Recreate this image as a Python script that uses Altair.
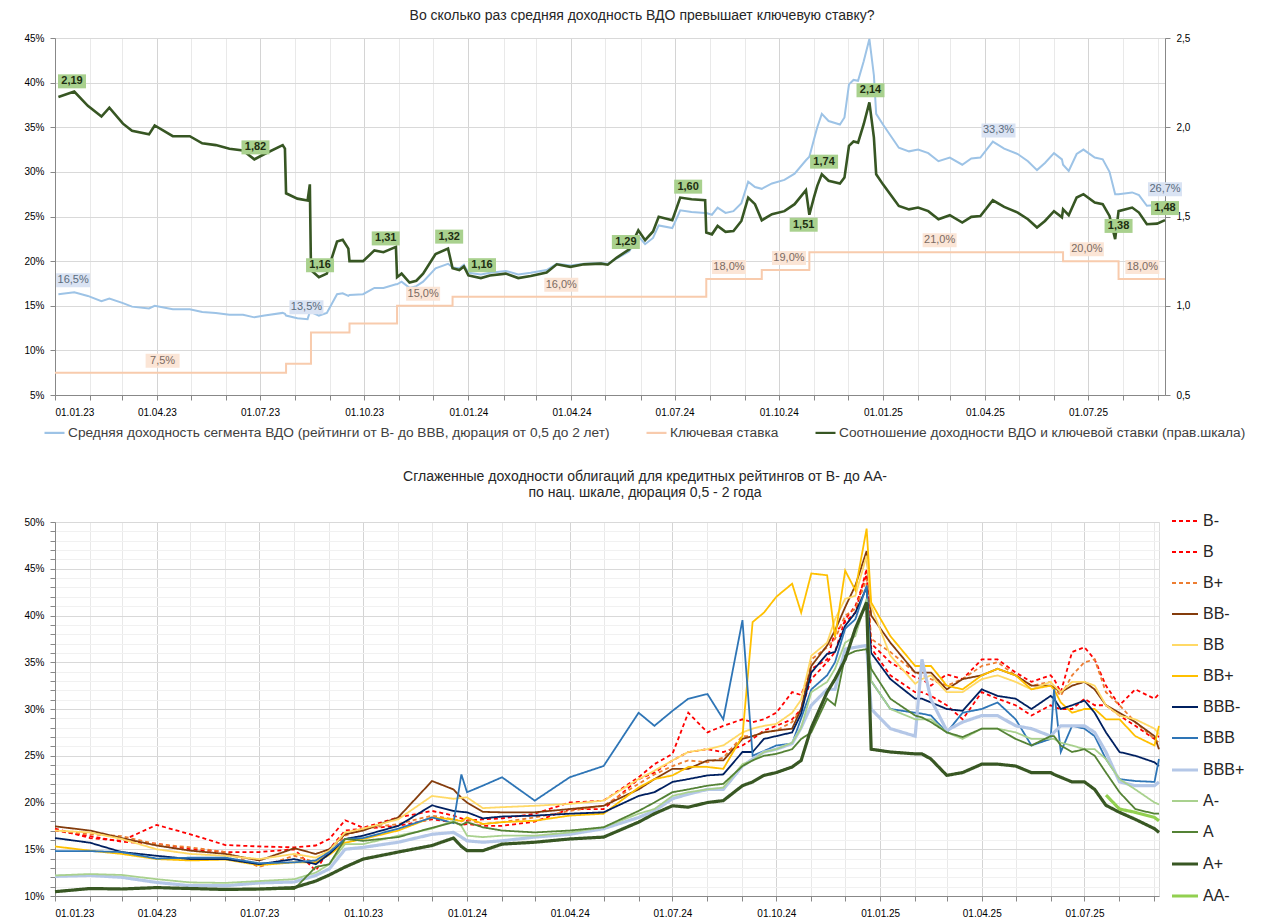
import pandas as pd
import altair as alt

FONT = "Liberation Sans"

# ---------------- top chart: VDO yield, key rate, ratio ----------------
dates_2023 = [
    "2023-01-04", "2023-01-18", "2023-01-30", "2023-02-11", "2023-02-18", "2023-03-02", "2023-03-10", "2023-03-25",
    "2023-03-30", "2023-04-15", "2023-04-30", "2023-05-11", "2023-05-23", "2023-06-04", "2023-06-16", "2023-06-26",
    "2023-07-05", "2023-07-21", "2023-07-23", "2023-07-24", "2023-08-03", "2023-08-12", "2023-08-14", "2023-08-15",
    "2023-08-22", "2023-08-29", "2023-09-07", "2023-09-12", "2023-09-17", "2023-09-18", "2023-09-30", "2023-10-10",
    "2023-10-18", "2023-10-29", "2023-10-30", "2023-11-03", "2023-11-10", "2023-11-16", "2023-11-22", "2023-12-03",
    "2023-12-14", "2023-12-18", "2023-12-24", "2023-12-28",
]
yield_2023 = [
    16.3, 16.5, 16.1, 15.5, 15.8, 15.3, 14.9, 14.7,
    15.0, 14.6, 14.6, 14.3, 14.2, 14.0, 14.0, 13.7,
    13.9, 14.2, 14.1, 13.9, 13.6, 13.5, 14.3, 14.3,
    13.9, 14.2, 16.3, 16.4, 16.1, 16.2, 16.3, 17.0,
    17.0, 17.4, 17.4, 17.7, 17.0, 17.2, 17.7, 19.2,
    19.7, 19.3, 19.2, 19.6,
]
ratio_2023 = [
    2.17, 2.20, 2.12, 2.06, 2.11, 2.02, 1.98, 1.96,
    2.01, 1.95, 1.95, 1.91, 1.90, 1.88, 1.87, 1.82,
    1.85, 1.90, 1.88, 1.63, 1.60, 1.59, 1.68, 1.20,
    1.16, 1.18, 1.36, 1.37, 1.32, 1.25, 1.25, 1.31,
    1.30, 1.33, 1.16, 1.18, 1.13, 1.14, 1.18, 1.29,
    1.32, 1.21, 1.20, 1.22,
]
dates_2024 = [
    "2024-01-01", "2024-01-12", "2024-01-20", "2024-02-03", "2024-02-14", "2024-02-25", "2024-03-10", "2024-03-19",
    "2024-03-31", "2024-04-12", "2024-04-27", "2024-05-03", "2024-05-11", "2024-05-22", "2024-05-30", "2024-06-05",
    "2024-06-12", "2024-06-17", "2024-06-29", "2024-07-06", "2024-07-16", "2024-07-28", "2024-07-29", "2024-08-03",
    "2024-08-08", "2024-08-15", "2024-08-22", "2024-08-29", "2024-09-04", "2024-09-10", "2024-09-16", "2024-09-25",
    "2024-10-06", "2024-10-15", "2024-10-25", "2024-10-28", "2024-11-01", "2024-11-04", "2024-11-08", "2024-11-14",
    "2024-11-24", "2024-11-28", "2024-12-02", "2024-12-06", "2024-12-10", "2024-12-15", "2024-12-20", "2024-12-24",
    "2024-12-26",
]
yield_2024 = [
    18.7, 18.5, 18.7, 18.9, 18.5, 18.7, 19.0, 19.7,
    19.5, 19.7, 19.8, 19.7, 20.3, 21.1, 22.8, 21.9,
    22.6, 24.0, 23.7, 25.7, 25.5, 25.4, 25.4, 25.2,
    26.0, 25.4, 25.6, 26.5, 28.9, 28.3, 28.1, 28.7,
    29.1, 29.8, 31.3, 31.7, 33.6, 35.0, 36.5, 35.7,
    35.3, 36.1, 39.8, 40.3, 40.2, 42.4, 44.9, 40.8,
    36.5,
]
ratio_2024 = [
    1.17, 1.155, 1.17, 1.18, 1.155, 1.167, 1.186, 1.232,
    1.218, 1.232, 1.236, 1.23, 1.27, 1.316, 1.423, 1.367,
    1.416, 1.498, 1.479, 1.606, 1.597, 1.591, 1.41, 1.40,
    1.447, 1.414, 1.419, 1.475, 1.606, 1.569, 1.479, 1.513,
    1.53, 1.569, 1.647, 1.51, 1.606, 1.672, 1.737, 1.70,
    1.685, 1.718, 1.896, 1.92, 1.914, 2.017, 2.139, 1.942,
    1.737,
]
dates_2025 = [
    "2025-01-01", "2025-01-15", "2025-01-24", "2025-02-01", "2025-02-10", "2025-02-19", "2025-03-01", "2025-03-12",
    "2025-03-20", "2025-03-28", "2025-04-08", "2025-04-18", "2025-04-30", "2025-05-09", "2025-05-17", "2025-05-24",
    "2025-06-01", "2025-06-08", "2025-06-09", "2025-06-14", "2025-06-21", "2025-06-27", "2025-07-07", "2025-07-14",
    "2025-07-20", "2025-07-25", "2025-07-28", "2025-08-09", "2025-08-15", "2025-08-22", "2025-08-31", "2025-09-07",
]
yield_2025 = [
    35.3, 32.7, 32.3, 32.5, 32.1, 31.2, 31.6, 30.8,
    31.5, 31.6, 33.4, 32.6, 32.0, 31.2, 30.2, 31.0,
    32.1, 31.4, 30.8, 30.1, 32.0, 32.5, 31.6, 31.4,
    30.0, 27.5, 27.5, 27.7, 27.4, 26.2, 26.3, 26.7,
]
ratio_2025 = [
    1.68, 1.559, 1.54, 1.55, 1.53, 1.485, 1.507, 1.466,
    1.498, 1.503, 1.591, 1.554, 1.522, 1.485, 1.438, 1.475,
    1.53, 1.495, 1.54, 1.507, 1.606, 1.625, 1.578, 1.569,
    1.503, 1.373, 1.53, 1.55, 1.522, 1.457, 1.46, 1.48,
]

key_dates = ["2023-01-01", "2023-07-24", "2023-08-15", "2023-09-18", "2023-10-30", "2023-12-18",
             "2024-07-29", "2024-09-16", "2024-10-28", "2025-06-09", "2025-07-28", "2025-09-07"]
key_rate = [7.5, 8.5, 12, 13, 15, 16, 18, 19, 21, 20, 18, 18]

ratio_label_dates = ["2023-01-16", "2023-06-27", "2023-08-23", "2023-10-20", "2023-12-15", "2024-01-13", "2024-05-19",
                     "2024-07-13", "2024-10-23", "2024-11-10", "2024-12-21", "2025-07-28", "2025-09-07"]
ratio_label_values = [2.19, 1.82, 1.16, 1.31, 1.32, 1.16, 1.29, 1.60, 1.51, 1.74, 2.14, 1.38, 1.48]
ratio_label_below = [False, False, False, False, False, False, False, False, True, False, False, False, False]

vdo_label_dates = ["2023-01-17", "2023-08-11", "2025-04-13", "2025-09-07"]
vdo_label_values = [16.5, 13.5, 33.3, 26.7]

key_label_dates = ["2023-04-06", "2023-11-22", "2024-03-23", "2024-08-18", "2024-10-10", "2025-02-20",
                   "2025-06-30", "2025-08-18"]
key_label_values = [7.5, 15.0, 16.0, 18.0, 19.0, 21.0, 20.0, 18.0]

top_names = [
    "Средняя доходность сегмента ВДО (рейтинги от B- до BBB, дюрация от 0,5 до 2 лет)",
    "Ключевая ставка",
    "Соотношение доходности ВДО и ключевой ставки (прав.шкала)",
]
top_colors = ["#9dc3e6", "#f8cbad", "#375623"]

# ---------------- bottom chart: smoothed yields by rating ----------------
grid_dates = [
    "2023-01-01", "2023-02-01", "2023-03-01", "2023-04-01", "2023-05-01", "2023-06-01", "2023-07-01", "2023-08-01",
    "2023-08-20", "2023-09-01", "2023-09-15", "2023-10-01", "2023-11-01", "2023-12-01", "2023-12-20", "2023-12-27",
    "2024-01-01", "2024-01-15", "2024-02-01", "2024-03-01", "2024-04-01", "2024-05-01", "2024-06-01", "2024-06-15",
    "2024-07-01", "2024-07-15", "2024-08-01", "2024-08-15", "2024-09-01", "2024-09-10", "2024-09-20", "2024-10-01",
    "2024-10-15", "2024-10-23", "2024-11-01", "2024-11-15", "2024-11-22", "2024-12-01", "2024-12-10", "2024-12-20",
    "2024-12-24", "2025-01-10", "2025-02-01", "2025-02-07", "2025-02-15", "2025-03-01", "2025-03-15", "2025-04-01",
    "2025-04-15", "2025-05-01", "2025-05-15", "2025-06-01", "2025-06-04", "2025-06-10", "2025-06-20", "2025-07-01",
    "2025-07-10", "2025-07-20", "2025-08-01", "2025-08-15", "2025-09-01", "2025-09-05",
]
b_minus = [
    17.2, 16.2, 15.9, 17.6, 16.6, 15.45, 15.3, 15.2,
    15.4, 16.1, 18.1, 17.3, 18.4, 19.1, 18.6, 18.3,
    18.05, 18.2, 18.3, 18.8, 20.0, 20.2, 22.7, 24.1,
    25.2, 29.6, 27.5, 28.2, 28.9, 28.6, 28.9, 29.6,
    31.8, 31.5, 34.3, 35.3, 38.2, 39.3, 40.3, 45.0,
    37.0, 35.0, 33.4, 33.2, 32.5, 33.7, 33.2, 35.3,
    35.3, 33.9, 32.9, 33.6, 33.2, 31.8, 36.1, 36.6,
    35.3, 32.5, 30.4, 32.1, 31.1, 31.6,
]
b_mid = [
    17.0, 16.4, 15.8, 15.6, 15.0, 14.7, 14.7, 15.0,
    12.7, 15.0, 17.0, 17.2, 17.5, 18.2, 17.9, 17.6,
    17.7, 17.5, 17.5, 17.95, 19.3, 19.3, 22.5, 23.2,
    24.5, 25.4, 25.7, 25.4, 26.1, 26.8, 27.7, 28.2,
    28.9, 30.0, 33.2, 35.0, 36.1, 39.6, 41.0, 44.4,
    36.5, 33.6, 31.8, 31.8, 31.4, 30.4, 28.9, 31.8,
    31.1, 30.4, 29.3, 30.4, 30.2, 30.0, 30.0, 31.1,
    30.4, 30.4, 29.3, 28.2, 26.8, 27.1,
]
b_plus = [
    17.0, 16.6, 16.4, 15.55, 15.2, 14.7, 13.1, 14.3,
    13.6, 14.5, 16.45, 17.2, 17.7, 18.6, 18.2, 18.0,
    18.2, 17.7, 17.9, 18.4, 19.1, 19.65, 22.0, 23.0,
    23.9, 24.5, 24.3, 24.8, 27.1, 27.1, 27.5, 27.7,
    28.6, 30.0, 35.3, 36.6, 37.5, 40.0, 40.7, 43.9,
    37.5, 36.1, 33.9, 33.7, 33.2, 32.5, 33.2, 34.6,
    35.0, 33.6, 32.5, 32.9, 32.3, 31.4, 33.6, 35.0,
    35.3, 31.8, 30.4, 28.6, 26.8, 26.4,
]
bb_minus = [
    17.45, 17.0, 16.2, 15.4, 14.85, 14.5, 13.8, 15.1,
    14.5, 15.0, 16.6, 17.0, 18.4, 22.3, 21.4, 20.5,
    20.0, 19.0, 18.95, 18.95, 19.3, 19.65, 21.4, 22.5,
    23.6, 23.6, 24.5, 24.5, 26.8, 27.1, 27.5, 27.7,
    27.9, 30.0, 34.6, 36.8, 38.4, 40.9, 43.2, 46.9,
    40.0, 37.1, 33.9, 33.9, 33.9, 32.1, 33.2, 33.6,
    34.3, 33.6, 32.5, 32.5, 32.3, 31.8, 32.5, 32.9,
    32.1, 30.4, 29.6, 28.6, 27.1, 25.7,
]
bb_mid = [
    17.0, 16.8, 16.1, 15.0, 14.5, 14.3, 13.95, 14.5,
    14.1, 14.85, 16.8, 17.2, 18.2, 20.7, 20.4, 20.5,
    20.55, 19.4, 19.5, 19.65, 19.85, 20.2, 22.5, 23.4,
    24.5, 25.4, 25.7, 26.1, 27.5, 27.9, 28.2, 28.4,
    29.6, 31.0, 35.7, 37.1, 39.6, 41.8, 42.1, 46.4,
    41.0, 35.7, 32.7, 33.2, 33.6, 31.8, 31.8, 33.2,
    33.6, 32.9, 32.1, 32.9, 32.5, 31.8, 32.9, 32.9,
    32.5, 30.4, 29.3, 28.9, 27.9, 27.3,
]
bb_plus = [
    15.3, 14.85, 14.5, 13.95, 13.8, 13.9, 13.3, 13.6,
    13.6, 14.4, 15.7, 16.1, 17.0, 18.4, 18.2, 18.0,
    18.4, 17.7, 17.9, 18.05, 18.6, 18.8, 21.6, 22.5,
    22.9, 23.8, 23.8, 23.6, 27.1, 39.3, 40.3, 42.0,
    43.4, 40.3, 44.5, 44.3, 37.7, 44.8, 42.7, 49.3,
    41.4, 37.8, 34.6, 34.6, 34.6, 32.5, 32.1, 33.6,
    34.3, 33.6, 32.1, 32.5, 32.1, 30.7, 29.6, 30.0,
    30.0, 28.9, 28.9, 27.1, 26.1, 28.2,
]
bbb_minus = [
    16.2, 15.7, 14.7, 14.3, 13.95, 13.95, 13.4, 13.95,
    13.4, 14.5, 16.1, 16.45, 17.5, 19.7, 19.1, 19.0,
    18.95, 18.3, 18.5, 18.6, 18.8, 18.95, 20.7, 21.1,
    22.2, 22.5, 22.9, 23.0, 25.4, 25.4, 26.8, 27.1,
    27.5, 29.5, 33.9, 35.9, 36.1, 38.9, 40.3, 43.0,
    36.0, 33.2, 31.1, 31.1, 30.7, 30.0, 29.8, 32.1,
    31.4, 31.1, 30.0, 31.4, 31.1, 30.0, 30.4, 30.9,
    29.6, 27.5, 25.4, 25.0, 24.3, 23.9,
]
bbb_mid = [
    14.8, 14.8, 14.7, 14.0, 14.1, 14.1, 13.5, 13.6,
    13.8, 14.7, 16.1, 16.2, 17.2, 18.4, 17.8, 23.0,
    21.1, 21.8, 22.7, 20.2, 22.7, 23.9, 29.6, 28.2,
    29.8, 31.1, 31.6, 28.9, 39.5, 25.0, 25.5, 26.1,
    26.3, 29.0, 32.1, 33.6, 35.0, 38.6, 39.6, 43.2,
    33.0, 30.0, 29.6, 29.5, 29.3, 27.5, 29.6, 30.0,
    30.7, 28.9, 26.1, 26.8, 32.1, 25.4, 28.2, 27.9,
    27.1, 24.65, 22.5, 22.3, 22.2, 24.65,
]
bbb_plus = [
    12.1, 12.2, 12.0, 11.45, 11.1, 11.1, 11.4, 11.5,
    12.2, 12.9, 15.0, 15.2, 15.75, 16.6, 16.8, 16.3,
    15.9, 15.75, 15.9, 16.3, 16.6, 17.2, 18.4, 19.1,
    20.4, 20.9, 21.4, 21.4, 23.9, 24.65, 25.4, 25.7,
    26.3, 28.0, 30.4, 32.1, 32.1, 36.4, 36.6, 36.8,
    30.0, 27.9, 27.1, 35.3, 31.0, 27.7, 28.6, 29.3,
    29.3, 28.2, 27.9, 27.1, 27.5, 28.2, 28.2, 28.2,
    27.5, 25.4, 22.2, 21.8, 21.8, 22.2,
]
a_minus = [
    12.2, 12.35, 12.25, 11.8, 11.45, 11.4, 11.6, 11.8,
    12.5, 13.4, 15.55, 15.55, 16.45, 17.2, 18.05, 17.5,
    16.45, 16.3, 16.45, 16.45, 16.8, 17.35, 18.8, 19.3,
    20.7, 21.1, 21.4, 21.6, 24.1, 24.5, 25.4, 25.7,
    26.4, 28.0, 31.8, 32.9, 34.3, 37.1, 37.8, 41.8,
    33.0, 30.0, 28.9, 28.9, 28.9, 27.5, 26.8, 27.9,
    27.9, 27.5, 26.8, 26.8, 26.8, 26.4, 26.1, 25.7,
    25.7, 24.65, 22.5, 21.4, 20.0, 19.8,
]
a_mid = [
    10.5, 10.8, 10.75, 10.85, 10.8, 10.7, 10.7, 10.75,
    13.1, 13.4, 16.1, 15.9, 16.3, 17.3, 17.9, 17.6,
    17.9, 17.35, 17.0, 16.8, 17.0, 17.35, 19.1, 20.0,
    21.1, 21.4, 21.8, 22.0, 23.9, 24.5, 25.0, 25.2,
    25.7, 26.8, 27.5, 31.1, 30.4, 35.7, 36.2, 36.4,
    34.3, 31.1, 29.3, 29.1, 28.6, 27.5, 27.0, 27.9,
    27.9, 26.8, 26.1, 27.1, 27.1, 26.1, 25.4, 25.7,
    25.0, 23.2, 21.1, 19.3, 18.8, 18.8,
]
a_plus = [
    10.46, 10.8, 10.75, 10.9, 10.8, 10.7, 10.75, 10.9,
    11.6, 12.25, 13.1, 13.95, 14.7, 15.4, 16.2, 15.3,
    14.85, 14.85, 15.55, 15.75, 16.1, 16.3, 17.9, 18.8,
    19.65, 19.5, 20.0, 20.2, 21.8, 22.2, 22.9, 23.2,
    23.8, 24.5, 28.0, 31.8, 33.2, 35.3, 38.6, 41.4,
    25.7, 25.4, 25.2, 25.2, 24.65, 22.9, 23.2, 24.1,
    24.1, 23.9, 23.2, 23.2, 23.0, 22.7, 22.2, 22.2,
    21.4, 19.7, 18.95, 18.2, 17.2, 16.8,
]
aa_minus = [None] * 57 + [20.8, 19.3, 18.95, 18.4, 18.05]

ratings = ["B-", "B", "B+", "BB-", "BB", "BB+", "BBB-", "BBB", "BBB+", "A-", "A", "A+", "AA-"]
rating_series = [b_minus, b_mid, b_plus, bb_minus, bb_mid, bb_plus, bbb_minus, bbb_mid, bbb_plus,
                 a_minus, a_mid, a_plus, aa_minus]
rating_colors = ["#ff0000", "#ff0000", "#ed7d31", "#843c0c", "#ffd966", "#ffc000", "#002060", "#2e75b6",
                 "#b4c7e7", "#a9d18e", "#548235", "#385723", "#92d050"]
rating_dash = [[4, 3], [4, 3], [4, 3]] + [[1, 0]] * 10
rating_width = [1.8, 1.8, 1.8, 1.8, 1.8, 1.8, 1.8, 1.8, 3.2, 1.8, 1.8, 3.2, 3.2]

# ---------------- frames ----------------
top_dates = pd.to_datetime(dates_2023 + dates_2024 + dates_2025)
vdo_df = pd.DataFrame({"date": top_dates, "pct": yield_2023 + yield_2024 + yield_2025, "series": top_names[0]})
key_df = pd.DataFrame({"date": pd.to_datetime(key_dates), "pct": key_rate, "series": top_names[1]})
ratio_df = pd.DataFrame({"date": top_dates, "ratio": ratio_2023 + ratio_2024 + ratio_2025, "series": top_names[2]})

ratio_lab = pd.DataFrame({
    "date": pd.to_datetime(ratio_label_dates), "ratio": ratio_label_values, "below": ratio_label_below,
    "label": [f"{v:.2f}".replace(".", ",") for v in ratio_label_values],
})
vdo_lab = pd.DataFrame({
    "date": pd.to_datetime(vdo_label_dates), "pct": vdo_label_values,
    "label": [f"{v:.1f}%".replace(".", ",") for v in vdo_label_values],
})
key_lab = pd.DataFrame({
    "date": pd.to_datetime(key_label_dates), "pct": key_label_values,
    "label": [f"{v:.1f}%".replace(".", ",") for v in key_label_values],
})

rows = []
for name, values in zip(ratings, rating_series):
    for d, v in zip(grid_dates, values):
        if v is not None:
            rows.append({"date": d, "value": v, "rating": name})
bottom_df = pd.DataFrame(rows)
bottom_df["date"] = pd.to_datetime(bottom_df["date"])

# ---------------- shared axis pieces ----------------
QUARTER = "month(datum.value) % 3 == 0"
month_ticks = [alt.DateTime(year=y, month=m, date=1) for y in (2023, 2024, 2025) for m in range(1, 13)
               if not (y == 2025 and m > 9)]


def x_axis():
    return alt.Axis(values=month_ticks, title=None, labelOverlap=False, labelPadding=7,
                    labelExpr=f"{QUARTER} ? timeFormat(datum.value, '%d.%m.%y') : ''",
                    gridColor={"condition": {"test": QUARTER, "value": "#d4d4d4"}, "value": "#e9e9e9"})


top_x_scale = alt.Scale(domain=[alt.DateTime(year=2023, month=1, date=1), alt.DateTime(year=2025, month=9, date=7)])
bot_x_scale = alt.Scale(domain=[alt.DateTime(year=2023, month=1, date=1), alt.DateTime(year=2025, month=9, date=5)])


def tx():
    # same axis on every layer so the shared x axis merges into one
    return alt.X("date:T", scale=top_x_scale, axis=x_axis(), title=None)


def y_left(field, axis=False):
    ax = alt.Axis(values=[5, 10, 15, 20, 25, 30, 35, 40, 45], labelExpr="datum.value + '%'", title=None,
                  gridColor="#d9d9d9", labelPadding=6) if axis else None
    return alt.Y(f"{field}:Q", scale=alt.Scale(domain=[5, 45], nice=False, zero=False), axis=ax, title=None)


def y_right(field, axis=False):
    ax = alt.Axis(orient="right", values=[0.5, 1.0, 1.5, 2.0, 2.5], grid=False, title=None, labelPadding=6,
                  labelExpr="replace(format(datum.value, '.1f'), '.', ',')") if axis else None
    return alt.Y(f"{field}:Q", scale=alt.Scale(domain=[0.5, 2.5], nice=False, zero=False), axis=ax, title=None)


top_color = alt.Color(
    "series:N", scale=alt.Scale(domain=top_names, range=top_colors),
    legend=alt.Legend(title=None, orient="none", legendX=-12, legendY=383, direction="horizontal", columns=3,
                      symbolType="stroke", symbolSize=400, symbolStrokeWidth=2.2, labelFontSize=13.7,
                      labelFont=FONT, labelColor="#404040", labelLimit=800, columnPadding=32, labelOffset=2),
)

# ---------------- top chart layers (each y scale has a fixed domain) ----------------
vdo_line = alt.Chart(vdo_df).mark_line(strokeWidth=2).encode(x=tx(), y=y_left("pct", True), color=top_color)
key_line = alt.Chart(key_df).mark_line(strokeWidth=2, interpolate="step-after").encode(
    x=tx(), y=y_left("pct"), color=top_color)
ratio_line = alt.Chart(ratio_df).mark_line(strokeWidth=2.6).encode(
    x=tx(), y=y_right("ratio", True), color=top_color)

vdo_box = alt.Chart(vdo_lab).mark_rect(color="#dae3f3", xOffset=-17, x2Offset=17, yOffset=-19, y2Offset=-5).encode(
    x=tx(), x2="date:T", y=y_left("pct"), y2="pct:Q")
vdo_text = alt.Chart(vdo_lab).mark_text(dy=-12, fontSize=11, font=FONT, color="#5b6b7c").encode(
    x=tx(), y=y_left("pct"), text="label:N")
key_box = alt.Chart(key_lab).mark_rect(color="#fbe5d6", xOffset=-17, x2Offset=17, yOffset=-19, y2Offset=-5).encode(
    x=tx(), x2="date:T", y=y_left("pct"), y2="pct:Q")
key_text = alt.Chart(key_lab).mark_text(dy=-12, fontSize=11, font=FONT, color="#7a6a62").encode(
    x=tx(), y=y_left("pct"), text="label:N")

above = alt.datum.below == False
below = alt.datum.below == True
ratio_box_up = alt.Chart(ratio_lab).transform_filter(above).mark_rect(
    color="#a9d18e", xOffset=-14, x2Offset=14, yOffset=-19, y2Offset=-5).encode(
    x=tx(), x2="date:T", y=y_right("ratio"), y2="ratio:Q")
ratio_text_up = alt.Chart(ratio_lab).transform_filter(above).mark_text(
    dy=-12, fontSize=11, font=FONT, fontWeight="bold", color="#1e2e12").encode(
    x=tx(), y=y_right("ratio"), text="label:N")
ratio_box_dn = alt.Chart(ratio_lab).transform_filter(below).mark_rect(
    color="#a9d18e", xOffset=-14, x2Offset=14, yOffset=3, y2Offset=17).encode(
    x=tx(), x2="date:T", y=y_right("ratio"), y2="ratio:Q")
ratio_text_dn = alt.Chart(ratio_lab).transform_filter(below).mark_text(
    dy=10, fontSize=11, font=FONT, fontWeight="bold", color="#1e2e12").encode(
    x=tx(), y=y_right("ratio"), text="label:N")

top = alt.layer(
    vdo_line, key_line, ratio_line, vdo_box, vdo_text, key_box, key_text,
    ratio_box_up, ratio_text_up, ratio_box_dn, ratio_text_dn,
).resolve_scale(y="independent").properties(
    width=1110, height=357,
    title=alt.TitleParams("Во сколько раз средняя доходность ВДО превышает ключевую ставку?",
                          font=FONT, fontSize=14, fontWeight="normal", color="#262626",
                          anchor="middle", frame="group", dx=32, offset=10),
)

# ---------------- bottom chart ----------------
bot_legend = alt.Legend(title=None, orient="none", legendX=1115, legendY=-15, symbolType="stroke",
                        symbolSize=676, labelFontSize=16, labelFont=FONT, labelColor="#262626",
                        rowPadding=9, labelOffset=3)

bottom = alt.Chart(bottom_df).mark_line().encode(
    x=alt.X("date:T", scale=bot_x_scale, axis=x_axis(), title=None),
    y=alt.Y("value:Q", scale=alt.Scale(domain=[10, 50], nice=False, zero=False), title=None,
            axis=alt.Axis(values=list(range(10, 51)), labelOverlap=False, labelPadding=6, title=None,
                          labelExpr="datum.value % 5 == 0 ? datum.value + '%' : ''",
                          gridColor={"condition": {"test": "datum.value % 5 == 0", "value": "#d9d9d9"},
                                     "value": "#f1f1f1"})),
    color=alt.Color("rating:N", scale=alt.Scale(domain=ratings, range=rating_colors), legend=bot_legend),
    strokeDash=alt.StrokeDash("rating:N", scale=alt.Scale(domain=ratings, range=rating_dash), legend=bot_legend),
    strokeWidth=alt.StrokeWidth("rating:N", scale=alt.Scale(type="ordinal", domain=ratings, range=rating_width),
                                legend=bot_legend),
).properties(
    width=1104, height=374,
    title=alt.TitleParams(["Сглаженные доходности облигаций для кредитных рейтингов от B- до AA-",
                           "по нац. шкале, дюрация 0,5 - 2 года"],
                          font=FONT, fontSize=14, fontWeight="normal", color="#262626", lineHeight=16,
                          anchor="middle", frame="group", dx=38, offset=7),
)

chart = alt.vconcat(top, bottom, spacing=28).resolve_scale(
    color="independent", strokeDash="independent", strokeWidth="independent",
).properties(
    padding={"left": 15, "top": 0, "right": 5, "bottom": 0},
).configure_view(strokeWidth=0).configure_axis(
    labelFont=FONT, labelFontSize=11, labelColor="#595959", domain=False, ticks=False,
).configure(background="white")

chart.save("out.html", embed_options={"renderer": "svg", "actions": False})
